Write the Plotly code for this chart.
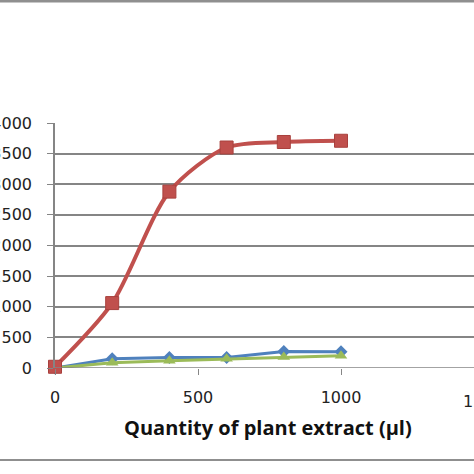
import plotly.graph_objects as go

x_vals = [0, 200, 400, 600, 800, 1000]
red_vals = [20, 1060, 2880, 3600, 3690, 3710]
blue_vals = [0, 150, 170, 170, 270, 265]
green_vals = [0, 85, 120, 150, 180, 200]
y_ticks = [0, 500, 1000, 1500, 2000, 2500, 3000, 3500, 4000]
x_ticks = [0, 500, 1000, 1500]
x_title = "Quantity of plant extract (µl)"

W = H = 474
L, R, T, B = 55, 0, 123, 106
x_max = (W - L) / (286.0 / 1000)
TICKFONT = dict(family="DejaVu Sans", size=16, color="#222222")

fig = go.Figure()
fig.add_trace(go.Scatter(x=x_vals, y=blue_vals, mode="lines+markers",
                         line=dict(color="#4F81BD", width=3),
                         marker=dict(symbol="diamond", size=10, color="#4F81BD"),
                         cliponaxis=False, showlegend=False))
fig.add_trace(go.Scatter(x=x_vals, y=green_vals, mode="lines+markers",
                         line=dict(color="#9BBB59", width=3),
                         marker=dict(symbol="triangle-up", size=11, color="#9BBB59"),
                         cliponaxis=False, showlegend=False))
fig.add_trace(go.Scatter(x=x_vals, y=red_vals, mode="lines+markers",
                         line=dict(color="#C0504D", width=4, shape="spline", smoothing=0.8),
                         marker=dict(symbol="square", size=13, color="#C0504D",
                                     line=dict(color="#A8403D", width=1)),
                         cliponaxis=False, showlegend=False))

fig.update_layout(
    template="none",
    width=W, height=H,
    margin=dict(l=L, r=R, t=T, b=B, autoexpand=False),
    paper_bgcolor="white", plot_bgcolor="white",
    font=dict(family="DejaVu Sans", size=16, color="#222222"),
    xaxis=dict(range=[0, x_max], tickvals=x_ticks[:-1], showgrid=False,
               zeroline=False, showline=False, ticks="outside", ticklen=6,
               tickcolor="#868686", automargin=False, tickfont=TICKFONT,
               ticklabelstandoff=9),
    yaxis=dict(range=[0, 4000], tickvals=y_ticks, showgrid=True,
               gridcolor="#858585", gridwidth=1.5, zeroline=False,
               showline=True, linecolor="#858585", linewidth=1.5,
               ticks="outside", ticklen=6, tickcolor="#858585", automargin=False,
               tickfont=TICKFONT, ticklabelstandoff=12),
)

fig.add_shape(type="line", xref="paper", yref="y", x0=0, x1=1, y0=0, y1=0,
              line=dict(color="#858585", width=1.5))

# cut-off 1500 tick label at the right edge
fig.add_annotation(x=x_ticks[-1] / x_max, y=0, xref="paper", yref="paper",
                   text=str(x_ticks[-1]), showarrow=False, yanchor="top", yshift=-22,
                   xanchor="center", font=TICKFONT)

# axis title
fig.add_annotation(x=(268 - L) / (W - L), y=(368 - 427) / 245, xref="paper", yref="paper",
                   text="<b>" + x_title + "</b>", showarrow=False,
                   xanchor="center", yanchor="middle",
                   font=dict(family="Open Sans", size=20, color="#111111"))

# outer chart-area borders
fig.add_shape(type="line", xref="paper", yref="paper", x0=-0.2, x1=1.2,
              y0=(368 - 1) / 245, y1=(368 - 1) / 245, line=dict(color="#8f8f8f", width=3))
fig.add_shape(type="line", xref="paper", yref="paper", x0=-0.2, x1=1.2,
              y0=(368 - 460) / 245, y1=(368 - 460) / 245, line=dict(color="#8f8f8f", width=2))

fig.write_html("out.html", config={"displayModeBar": False},
               post_script="document.body.style.margin='0';document.body.style.overflow='hidden';")
